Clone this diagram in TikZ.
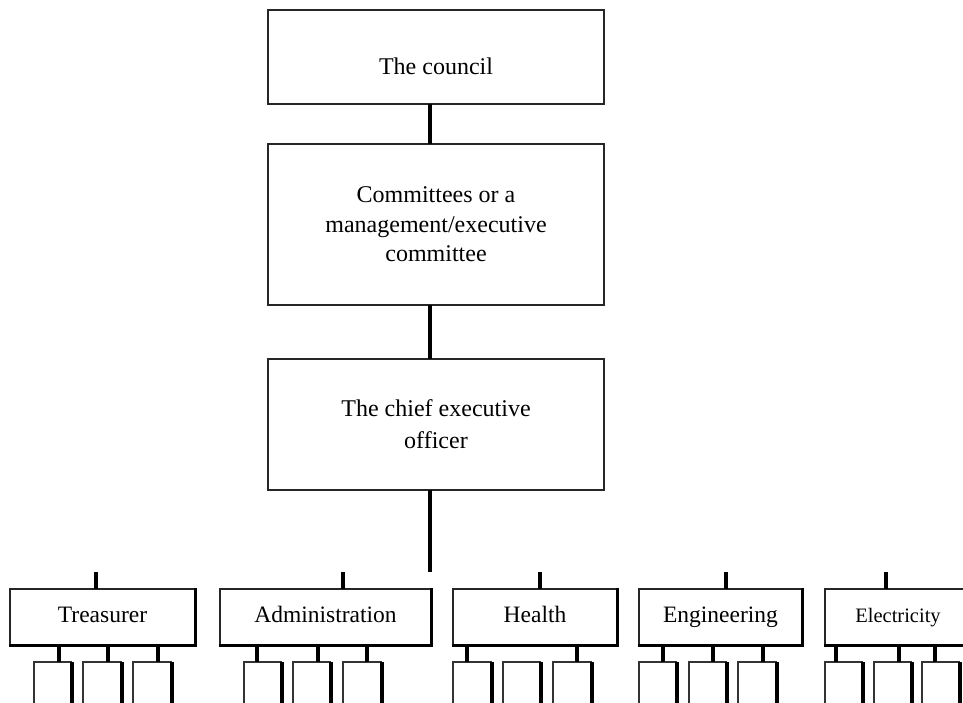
\documentclass[tikz,border=0pt]{standalone}
\usepackage{fontspec}
\setmainfont{Liberation Serif}
\begin{document}
\begin{tikzpicture}[x=1pt,y=-1pt,
  topbox/.style={draw=black!85, line width=1.3pt, fill=white, inner sep=0pt, outer sep=0pt,
    minimum width=336pt, align=center, font=\fontsize{24}{29.5}\selectfont},
  deptbox/.style={draw=black!85, line width=1.2pt, inner sep=0pt, outer sep=0pt,
    minimum height=56pt, text height=15pt, text depth=5pt, font=\fontsize{23.5}{28}\selectfont},
  edgeshadow/.style={line width=3pt, black, line cap=rect},
  linkline/.style={line width=3.5pt, black},
  ceoline/.style={line width=4.5pt, black},
  tickline/.style={line width=4pt, black},
  subline/.style={line width=4.5pt, black},
  subbox/.style={inner sep=0pt, outer sep=0pt, minimum height=50pt},
  subthin/.style={line width=1.3pt, black!80},
  subthick/.style={line width=3.5pt, black}
]
\useasboundingbox (0,0) rectangle (963,702);
\fill[white] (0,0) rectangle (963,702);
\clip (0,0) rectangle (963,702);

% upper chain
\coordinate (spine) at (430,0);
\node[topbox, minimum height=94pt] (council) at (436,57)
  {\raisebox{-9.5pt}[\height][\depth]{The council}};
\node[topbox, minimum height=161pt] (cttee) at (436,224.5)
  {Committees or a\\management/executive\\committee};
\node[topbox, minimum height=131pt, font=\fontsize{24}{32}\selectfont] (ceo) at (436,424.5)
  {The chief executive\\officer};
\draw[linkline] (spine |- council.south) -- (spine |- cttee.north);
\draw[linkline] (spine |- cttee.south) -- (spine |- ceo.north);
\coordinate (ceoend) at (430,572);
\draw[ceoline] (spine |- ceo.south) -- (ceoend);

% departments
\node[deptbox, minimum width=185pt] (treas) at (102.5,617) {Treasurer};
\node[deptbox, minimum width=211pt] (admin) at (325.5,617) {Administration};
\node[deptbox, minimum width=164pt] (health) at (535,617) {Health};
\node[deptbox, minimum width=163pt] (eng) at (720.5,617) {Engineering};
\node[deptbox, minimum width=146pt, font=\fontsize{20.5}{25}\selectfont] (elec) at (898,617) {Electricity};
\foreach \d in {treas,admin,health,eng,elec}
  \draw[edgeshadow] (\d.north east) -- (\d.south east) -- (\d.south west);

% ticks above departments
\foreach \d/\x in {treas/96, admin/343, health/540, eng/726, elec/886} {
  \coordinate (\d tick) at (\x,572);
  \draw[tickline] (\d tick) -- (\d tick |- \d.north);
}

% sub boxes
\foreach \n/\l/\r in {1/34/72, 2/83/122, 3/133/172, 4/244/282, 5/293/331, 6/343/382,
                      7/453/492, 8/503/541, 9/553/592, 10/639/677, 11/689/727, 12/738/777,
                      13/825/863, 14/874/912, 15/922/960} {
  \node[subbox, minimum width={\r pt-\l pt}] (s\n) at ({(\l+\r)/2},687) {};
  \draw[subthin] (s\n.south west) -- (s\n.north west) -- (s\n.north east);
  \draw[subthick] (s\n.north east) -- (s\n.south east);
}

% sub lines
\foreach \d/\n/\o in {treas/1/25, treas/2/25, treas/3/25, admin/4/13, admin/5/25, admin/6/24,
                      health/7/14, health/9/24, eng/10/24, eng/11/24, eng/12/25,
                      elec/13/11, elec/14/25, elec/15/13} {
  \path ([xshift=\o pt]s\n.north west) coordinate (s\n top);
  \draw[subline] (s\n top) -- (s\n top |- \d.south);
}
\end{tikzpicture}
\end{document}
